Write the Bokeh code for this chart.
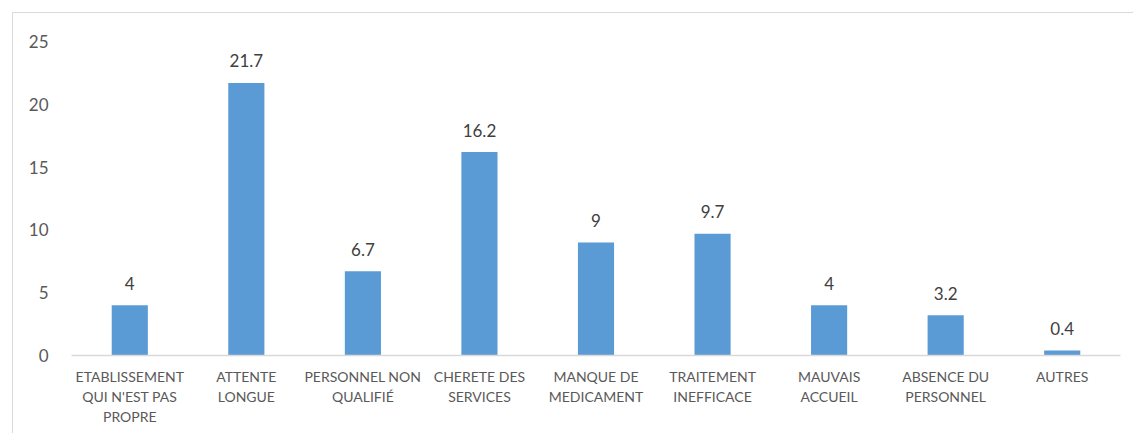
from bokeh.plotting import figure
from bokeh.models import ColumnDataSource, Range1d, FactorRange
from bokeh.embed import file_html
from bokeh.resources import INLINE

categories = [
    "ETABLISSEMENT\nQUI N'EST PAS\nPROPRE",
    "ATTENTE\nLONGUE",
    "PERSONNEL NON\nQUALIFIÉ",
    "CHERETE DES\nSERVICES",
    "MANQUE DE\nMEDICAMENT",
    "TRAITEMENT\nINEFFICACE",
    "MAUVAIS\nACCUEIL",
    "ABSENCE DU\nPERSONNEL",
    "AUTRES",
]
values = [4, 21.7, 6.7, 16.2, 9, 9.7, 4, 3.2, 0.4]
labels = ["4", "21.7", "6.7", "16.2", "9", "9.7", "4", "3.2", "0.4"]
y_ticks = [0, 5, 10, 15, 20, 25]

src = ColumnDataSource(dict(cat=categories, val=values, lab=labels))

p = figure(
    width=1121, height=421,
    x_range=FactorRange(*categories, range_padding=0),
    y_range=Range1d(0, 25),
    output_backend="svg", toolbar_location=None,
    min_border_left=58, min_border_right=14, min_border_top=28, min_border_bottom=79,
    styles={"margin-left": "12px", "margin-top": "12px",
            "border-left": "1px solid #d9d9d9", "border-top": "1px solid #d9d9d9"},
)
p.outline_line_color = None
p.xgrid.grid_line_color = None
p.ygrid.grid_line_color = None

p.vbar(x="cat", top="val", width=0.31, source=src, color="#5B9BD5", line_color=None)
p.text(x="cat", y="val", text="lab", source=src, text_align="center",
       text_baseline="middle", y_offset=-22, text_font_size="17px",
       text_color="#404040", text_font={"value": "Lato"})

p.yaxis.ticker = y_ticks
p.yaxis.axis_line_color = None
p.yaxis.major_tick_line_color = None
p.yaxis.minor_tick_line_color = None
p.yaxis.major_label_standoff = 17
p.yaxis.major_label_text_font = "Lato"
p.yaxis.major_label_text_font_size = "17px"
p.yaxis.major_label_text_color = "#595959"

p.xaxis.axis_line_color = "#d9d9d9"
p.xaxis.axis_line_width = 1.5
p.xaxis.major_tick_line_color = None
p.xaxis.minor_tick_line_color = None
p.xaxis.major_label_standoff = 6
p.xaxis.major_label_text_font = "Lato"
p.xaxis.major_label_text_font_size = "14px"
p.xaxis.major_label_text_color = "#595959"
p.xaxis.major_label_text_line_height = 1.2
p.xaxis.major_label_orientation = "horizontal"

open("out.html", "w").write(file_html(p, INLINE))
